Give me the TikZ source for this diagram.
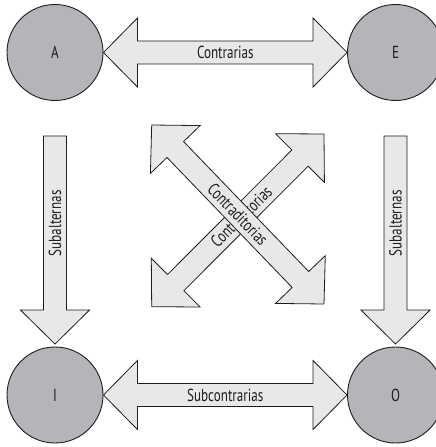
\documentclass[tikz,border=0pt]{standalone}
\usepackage{fontspec}
\setmainfont[FakeStretch=0.75]{PT Sans}
\usetikzlibrary{calc}
\definecolor{circfill}{RGB}{180,181,184}
\definecolor{arrfill}{RGB}{232,232,234}
\definecolor{ink}{RGB}{30,28,29}
\def\arrHL{34bp}
\def\arrHH{34.5bp}
\def\arrSW{11.5bp}
\newcommand\dblblock[2]{%
  \draw[blockarrow] (#1)
    -- ($(#1)!\arrHL!(#2)!\arrHH!90:(#2)$)
    -- ($(#1)!\arrHL!(#2)!\arrSW!90:(#2)$)
    -- ($(#2)!\arrHL!(#1)!\arrSW!-90:(#1)$)
    -- ($(#2)!\arrHL!(#1)!\arrHH!-90:(#1)$)
    -- (#2)
    -- ($(#2)!\arrHL!(#1)!\arrHH!90:(#1)$)
    -- ($(#2)!\arrHL!(#1)!\arrSW!90:(#1)$)
    -- ($(#1)!\arrHL!(#2)!\arrSW!-90:(#2)$)
    -- ($(#1)!\arrHL!(#2)!\arrHH!-90:(#2)$)
    -- cycle;}
\newcommand\sglblock[2]{%
  \draw[blockarrow] ($(#1)!\arrSW!90:(#2)$)
    -- ($(#2)!\arrHL!(#1)!\arrSW!-90:(#1)$)
    -- ($(#2)!\arrHL!(#1)!\arrHH!-90:(#1)$)
    -- (#2)
    -- ($(#2)!\arrHL!(#1)!\arrHH!90:(#1)$)
    -- ($(#2)!\arrHL!(#1)!\arrSW!90:(#1)$)
    -- ($(#1)!\arrSW!-90:(#2)$)
    -- cycle;}
\begin{document}
\begin{tikzpicture}[x=1bp,y=-1bp,
  term/.style={circle, draw=ink, fill=circfill, line width=0.9bp, minimum size=96bp, inner sep=0pt, font=\fontsize{17.5}{17.5}\selectfont, text=ink},
  blockarrow/.style={draw=ink, fill=arrfill, line width=0.8bp, line join=miter},
  lbl/.style={font=\fontsize{17.5}{17.5}\selectfont, text=ink, inner sep=0pt}]
\useasboundingbox (0,0) rectangle (436,447);
\clip (0,0) rectangle (436,447);
\node[term] (A) at (55,52.5) {A};
\node[term] (E) at (395.5,52.5) {E};
\node[term] (I) at (55,395) {I};
\node[term] (O) at (395.5,395) {O};
% horizontal
\dblblock{A.east}{E.west}
\path (A.east) -- (E.west) node[midway, lbl] {Contrarias};
\dblblock{I.east}{O.west}
\path (I.east) -- (O.west) node[midway, lbl] {Subcontrarias};
% vertical
\coordinate (as) at (55,136);
\coordinate (at) at ([yshift=2.5bp]I.north);
\sglblock{as}{at}
\path (as) -- (at) node[pos=0.42, lbl, rotate=90] {Subalternas};
\coordinate (es) at (395.5,136);
\coordinate (et) at ([yshift=2.5bp]O.north);
\sglblock{es}{et}
\path (es) -- (et) node[pos=0.42, lbl, rotate=90] {Subalternas};
% diagonals
\coordinate (d2s) at (151.7,306.7);
\coordinate (d2e) at (324,134);
\dblblock{d2s}{d2e}
\path (d2s) -- (d2e) node[pos=0.52, lbl, rotate=45] {Contraditorias};
\coordinate (d1s) at (151.7,125);
\coordinate (d1e) at (324,304);
\dblblock{d1s}{d1e}
\path (d1s) -- (d1e) node[midway, lbl, rotate=-46] {Contraditorias};
\end{tikzpicture}
\end{document}
